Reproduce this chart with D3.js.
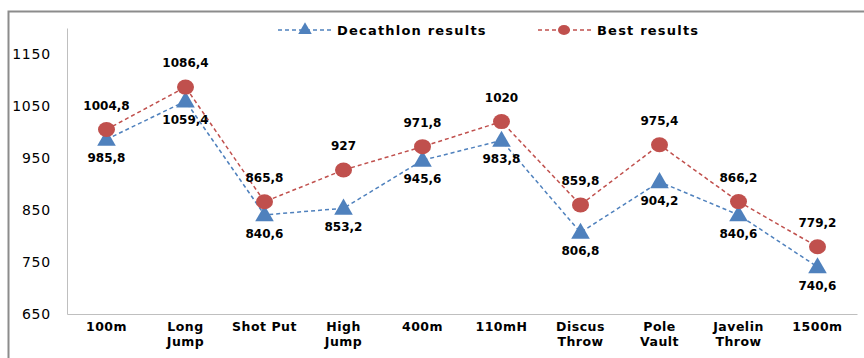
<!DOCTYPE html>
<html>
<head>
<meta charset="utf-8">
<script src="https://cdn.jsdelivr.net/npm/d3@7"></script>
<style>
  html, body { margin: 0; padding: 0; background: #fff; }
  svg { display: block; }
  text { font-family: "DejaVu Sans", Verdana, sans-serif; fill: #000; }
</style>
</head>
<body>
<svg id="chart" width="864" height="358"></svg>
<script>
// Decathlon events (multi-line labels split on "\n")
const events = ["100m", "Long\nJump", "Shot Put", "High\nJump", "400m", "110mH",
                "Discus\nThrow", "Pole\nVault", "Javelin\nThrow", "1500m"];
const decathlonResults = [985.8, 1059.4, 840.6, 853.2, 945.6, 983.8, 806.8, 904.2, 840.6, 740.6];
const bestResults = [1004.8, 1086.4, 865.8, 927, 971.8, 1020, 859.8, 975.4, 866.2, 779.2];
const yTicks = [650, 750, 850, 950, 1050, 1150];
const seriesNames = ["Decathlon results", "Best results"];

const BLUE = "#4f81bd", RED = "#c0504d";
const fmt = v => String(v).replace(".", ",");

const svg = d3.select("#chart");
const plot = { left: 67, right: 857, top: 28, bottom: 314 };

// outer frame (top and left edges)
svg.append("path")
  .attr("d", "M8.5,358 V11.5 H864")
  .attr("fill", "none").attr("stroke", "#8c8c8c").attr("stroke-width", 2);

const x = d3.scaleBand().domain(d3.range(events.length))
  .range([plot.left, plot.right]);
const y = d3.scaleLinear().domain([650, 1200]).range([plot.bottom, plot.top]);

// axes lines
const yAxis = svg.append("g").attr("transform", `translate(${plot.left},0)`)
  .call(d3.axisLeft(y).tickValues(yTicks).tickFormat(d3.format("d")).tickSize(0).tickPadding(16));
yAxis.select(".domain").attr("stroke", "#bfbfbf");
yAxis.selectAll("text")
  .style("font-size", "14px").style("letter-spacing", "0.8px")
  .attr("fill", "#000");

const xAxis = svg.append("g").attr("transform", `translate(0,${plot.bottom})`)
  .call(d3.axisBottom(x).tickSize(0).tickFormat(""));
xAxis.select(".domain").attr("stroke", "#bfbfbf");

// category labels
const cx = i => x(i) + x.bandwidth() / 2;
events.forEach((ev, i) => {
  const t = svg.append("text")
    .attr("x", cx(i)).attr("y", 331)
    .attr("text-anchor", "middle")
    .style("font-size", "12.5px").style("font-weight", "bold")
    .style("letter-spacing", "0.5px");
  ev.split("\n").forEach((line, k) => {
    t.append("tspan").attr("x", cx(i)).attr("dy", k === 0 ? 0 : 15).text(line);
  });
});

const line = d3.line().x((d, i) => cx(i)).y(d => y(d));

// series lines
svg.append("path").datum(decathlonResults).attr("d", line)
  .attr("fill", "none").attr("stroke", BLUE).attr("stroke-width", 1.5)
  .attr("stroke-dasharray", "4,3");
svg.append("path").datum(bestResults).attr("d", line)
  .attr("fill", "none").attr("stroke", RED).attr("stroke-width", 1.5)
  .attr("stroke-dasharray", "4,3");

const tri = d3.symbol().type(d3.symbolTriangle).size(150);

// decathlon markers + labels below
svg.append("g").selectAll("path").data(decathlonResults).join("path")
  .attr("d", tri)
  .attr("transform", (d, i) => `translate(${cx(i)},${y(d) + 1})`)
  .attr("fill", BLUE);
svg.append("g").selectAll("text").data(decathlonResults).join("text")
  .attr("x", (d, i) => cx(i)).attr("y", d => y(d) + 23)
  .attr("text-anchor", "middle")
  .style("font-size", "12px").style("font-weight", "bold")
  .text(fmt);

// best markers + labels above
svg.append("g").selectAll("ellipse").data(bestResults).join("ellipse")
  .attr("cx", (d, i) => cx(i)).attr("cy", d => y(d))
  .attr("rx", 8.5).attr("ry", 7.5)
  .attr("fill", RED);
svg.append("g").selectAll("text").data(bestResults).join("text")
  .attr("x", (d, i) => cx(i)).attr("y", d => y(d) - 20)
  .attr("text-anchor", "middle")
  .style("font-size", "12px").style("font-weight", "bold")
  .text(fmt);

// legend
const legend = svg.append("g");
const items = [
  { name: seriesNames[0], color: BLUE, x0: 278, shape: "tri" },
  { name: seriesNames[1], color: RED, x0: 538, shape: "dot" }
];
items.forEach(it => {
  const ly = 30;
  legend.append("line")
    .attr("x1", it.x0).attr("x2", it.x0 + 54).attr("y1", ly).attr("y2", ly)
    .attr("stroke", it.color).attr("stroke-width", 1.5).attr("stroke-dasharray", "4,3");
  if (it.shape === "tri") {
    legend.append("path").attr("d", d3.symbol().type(d3.symbolTriangle).size(80))
      .attr("transform", `translate(${it.x0 + 27},${ly})`).attr("fill", it.color);
  } else {
    legend.append("ellipse").attr("cx", it.x0 + 26).attr("cy", ly)
      .attr("rx", 6).attr("ry", 5).attr("fill", it.color);
  }
  legend.append("text").attr("x", it.x0 + 59).attr("y", ly + 5)
    .style("font-size", "13px").style("font-weight", "bold")
    .style("letter-spacing", "1.2px")
    .text(it.name);
});
</script>
</body>
</html>
